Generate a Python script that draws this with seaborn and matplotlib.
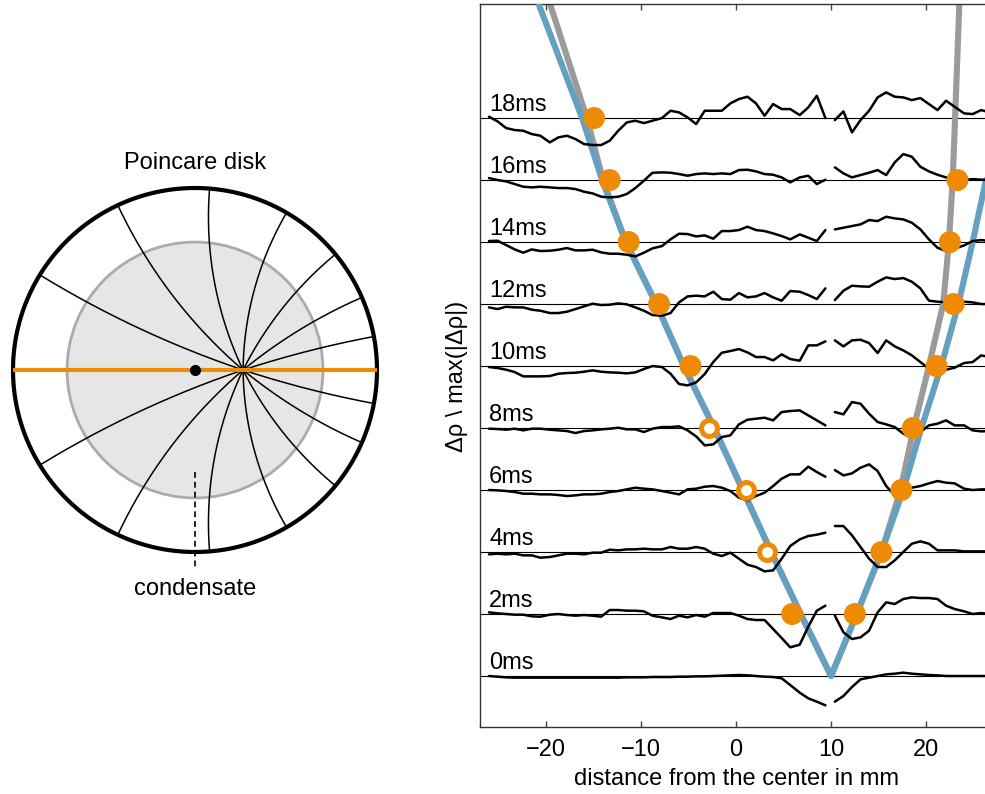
import numpy as np
import pandas as pd
import matplotlib
matplotlib.use("Agg")
import matplotlib.pyplot as plt
from matplotlib.patches import Circle
import seaborn as sns

sns.set_style("white")
plt.rcParams["font.family"] = ["Liberation Sans", "DejaVu Sans"]
plt.rcParams["axes.unicode_minus"] = True
plt.rcParams["text.color"] = "black"
plt.rcParams["axes.labelcolor"] = "black"
plt.rcParams["xtick.labelcolor"] = "black"

# ------------------------------------------------------------------ data
times_ms = [0, 2, 4, 6, 8, 10, 12, 14, 16, 18]

# sample positions (mm) of the density profiles, left and right of the gap
x_left = [-26.0, -25.1, -24.2, -23.3, -22.4, -21.5, -20.6, -19.6, -18.7, -17.8,
          -16.9, -16.0, -15.1, -14.2, -13.3, -12.4, -11.5, -10.6, -9.7, -8.8,
          -7.8, -6.9, -6.0, -5.1, -4.2, -3.3, -2.4, -1.5, -0.6, 0.3,
          1.2, 2.1, 3.0, 3.9, 4.8, 5.7, 6.7, 7.6, 8.5, 9.4]
x_right = [10.4, 11.3, 12.2, 13.1, 14.0, 14.9, 15.8, 16.7, 17.6, 18.5,
           19.4, 20.3, 21.2, 22.1, 23.0, 24.0, 24.9, 25.8, 26.7]

# normalised density change, left part
left_0ms = [0.00, -0.02, -0.04, -0.05, -0.05, -0.05, -0.05, -0.05, -0.05, -0.05,
            -0.05, -0.05, -0.05, -0.05, -0.05, -0.05, -0.04, -0.04, -0.04, -0.03,
            -0.03, -0.03, -0.02, -0.02, -0.01, -0.01, 0.00, 0.01, 0.02, 0.03,
            0.02, 0.00, -0.02, -0.03, -0.07, -0.27, -0.50, -0.67, -0.77, -0.88]
left_2ms = [0.05, 0.02, 0.00, -0.02, -0.02, -0.07, -0.08, -0.02, 0.00, -0.03,
            -0.05, -0.03, -0.05, -0.08, 0.12, 0.12, 0.10, 0.10, 0.08, -0.05,
            -0.10, -0.15, -0.05, -0.10, -0.03, -0.08, 0.03, 0.03, 0.03, -0.05,
            -0.15, -0.18, -0.18, -0.45, -0.72, -1.00, -0.92, -0.38, 0.10, 0.25]
left_4ms = [-0.07, -0.05, -0.07, -0.05, -0.10, -0.10, -0.17, -0.15, -0.10, -0.05,
            -0.05, -0.07, -0.02, -0.02, 0.07, 0.05, 0.08, 0.08, 0.10, 0.08,
            0.08, 0.15, 0.10, 0.10, 0.15, 0.10, -0.05, -0.12, -0.02, -0.20,
            -0.38, -0.45, -0.58, -0.55, -0.20, 0.18, 0.38, 0.48, 0.52, 0.58]
left_6ms = [0.00, -0.01, -0.03, -0.06, -0.11, -0.11, -0.13, -0.13, -0.15, -0.18,
            -0.16, -0.13, -0.13, -0.11, -0.06, -0.03, 0.02, 0.07, 0.04, 0.02,
            -0.03, -0.08, -0.13, 0.02, 0.04, 0.10, 0.12, 0.07, -0.03, -0.23,
            -0.31, -0.18, -0.08, 0.12, 0.34, 0.47, 0.47, 0.70, 0.54, 0.40]
left_8ms = [-0.02, -0.03, -0.05, -0.02, -0.07, -0.02, -0.02, -0.05, -0.07, -0.09,
            -0.15, -0.09, -0.07, -0.04, -0.02, 0.01, -0.04, -0.04, -0.12, -0.02,
            0.03, 0.03, 0.05, -0.07, -0.25, -0.52, -0.49, -0.27, -0.22, 0.11,
            0.25, 0.28, 0.31, 0.23, 0.48, 0.51, 0.53, 0.38, 0.23, 0.08]
left_10ms = [-0.03, -0.06, -0.11, -0.18, -0.31, -0.31, -0.31, -0.30, -0.23, -0.21,
             -0.20, -0.17, -0.13, -0.17, -0.19, -0.20, -0.22, -0.19, -0.09, 0.00,
             -0.03, -0.23, -0.54, -0.58, -0.49, -0.24, 0.12, 0.40, 0.45, 0.51,
             0.41, 0.27, 0.27, 0.17, 0.35, 0.21, 0.16, 0.62, 0.62, 0.74]
left_12ms = [-0.10, -0.15, -0.08, -0.10, -0.10, -0.17, -0.20, -0.27, -0.27, -0.23,
             -0.15, -0.07, 0.01, -0.03, -0.02, 0.02, -0.01, -0.10, -0.20, -0.33,
             -0.35, -0.27, 0.05, 0.23, 0.25, 0.23, 0.37, 0.15, 0.13, 0.33,
             0.20, 0.23, 0.33, 0.20, 0.10, 0.39, 0.37, 0.27, 0.15, 0.47]
left_14ms = [0.03, 0.04, -0.09, -0.22, -0.32, -0.22, -0.27, -0.26, -0.23, -0.18,
             -0.25, -0.25, -0.23, -0.31, -0.35, -0.35, -0.38, -0.43, -0.32, -0.19,
             -0.12, 0.08, 0.25, 0.24, 0.17, 0.20, 0.10, 0.33, 0.33, 0.36,
             0.46, 0.36, 0.33, 0.26, 0.18, 0.08, 0.23, 0.13, 0.03, 0.36]
left_16ms = [0.06, 0.00, -0.04, -0.12, -0.20, -0.22, -0.20, -0.22, -0.24, -0.24,
             -0.27, -0.35, -0.40, -0.50, -0.52, -0.50, -0.42, -0.24, -0.02, 0.22,
             0.23, 0.22, 0.18, 0.13, 0.18, 0.20, 0.18, 0.20, 0.18, 0.30,
             0.31, 0.26, 0.18, 0.16, 0.08, -0.07, 0.08, 0.13, -0.12, 0.01]
left_18ms = [0.04, -0.10, -0.30, -0.36, -0.38, -0.48, -0.53, -0.73, -0.58, -0.53,
             -0.63, -0.78, -0.81, -0.81, -0.68, -0.38, -0.13, -0.08, -0.15, -0.08,
             0.00, 0.22, 0.17, 0.02, -0.18, 0.22, 0.22, 0.22, 0.44, 0.57,
             0.64, 0.44, 0.07, 0.42, 0.27, 0.27, 0.09, 0.32, 0.67, 0.00]

# normalised density change, right part
right_0ms = [-0.77, -0.60, -0.33, -0.10, -0.05, 0.00, 0.05, 0.07, 0.10, 0.07,
             0.05, 0.03, 0.02, 0.00, 0.00, 0.00, 0.00, 0.00, 0.00]
right_2ms = [-0.05, -0.55, -0.75, -0.70, -0.50, 0.05, 0.35, 0.30, 0.45, 0.50,
             0.48, 0.48, 0.45, 0.25, 0.15, 0.08, 0.00, 0.03, 0.00]
right_4ms = [0.78, 0.78, 0.50, 0.15, -0.20, -0.45, -0.45, -0.25, 0.00, 0.25,
             0.32, 0.25, 0.05, 0.05, 0.05, 0.02, 0.02, 0.02, 0.02]
right_6ms = [0.60, 0.44, 0.50, 0.67, 0.77, 0.57, 0.12, -0.16, -0.10, 0.07,
             0.12, 0.20, 0.27, 0.22, 0.20, 0.04, 0.00, 0.02, 0.02]
right_8ms = [0.48, 0.41, 0.78, 0.73, 0.43, 0.18, 0.11, 0.03, -0.17, -0.29,
             -0.12, 0.08, 0.13, 0.23, 0.08, 0.08, -0.07, -0.10, -0.09]
right_10ms = [0.77, 0.59, 0.77, 0.79, 0.69, 0.39, 0.77, 0.59, 0.47, 0.32,
              0.12, -0.08, -0.11, -0.11, -0.05, 0.09, 0.12, 0.32, 0.27]
right_12ms = [0.12, 0.40, 0.55, 0.53, 0.52, 0.67, 0.80, 0.75, 0.78, 0.67,
              0.47, 0.10, 0.07, 0.05, 0.03, 0.07, 0.05, 0.00, 0.00]
right_14ms = [0.38, 0.43, 0.48, 0.53, 0.66, 0.63, 0.76, 0.71, 0.68, 0.58,
              0.38, 0.08, -0.17, -0.27, -0.20, -0.10, 0.03, 0.06, 0.03]
right_16ms = [0.38, 0.20, 0.08, 0.15, 0.22, 0.30, 0.15, 0.53, 0.78, 0.70,
              0.40, 0.26, 0.16, 0.08, 0.02, 0.00, 0.03, 0.01, 0.00]
right_18ms = [-0.06, 0.20, -0.43, -0.06, 0.22, 0.62, 0.77, 0.64, 0.62, 0.54,
              0.60, 0.42, 0.24, 0.52, 0.34, 0.14, 0.12, 0.24, 0.17]

# soliton trajectories (time in ms, position in mm)
blue_left_t = [0, 2, 4, 6, 8, 10, 12, 14, 16, 18, 21.7]
blue_left_x = [10.0, 6.8, 3.7, 0.7, -2.3, -5.5, -8.4, -11.6, -14.1, -16.2, -20.8]
blue_right_t = [0, 2, 4, 6, 8, 10, 12, 14, 16, 17]
blue_right_x = [10.0, 12.7, 15.3, 17.6, 19.5, 21.6, 23.4, 24.9, 26.3, 27.0]
grey_left_t = [0, 2, 4, 6, 8, 10, 12, 14, 16, 18, 21.7]
grey_left_x = [10.0, 6.8, 3.7, 0.7, -2.3, -5.5, -8.4, -11.6, -14.0, -15.7, -19.6]
grey_right_t = [0, 2, 4, 6, 8, 10, 12, 14, 16, 18, 21.7]
grey_right_x = [10.0, 12.7, 15.3, 17.3, 18.7, 20.3, 21.8, 22.4, 22.8, 23.05, 23.5]

# measured soliton positions
filled_t = [18, 16, 14, 12, 10, 2, 2, 4, 6, 8, 10, 12, 14, 16]
filled_x = [-14.95, -13.3, -11.3, -8.1, -4.8, 5.9, 12.5, 15.3, 17.4, 18.6, 21.1, 22.9, 22.5, 23.3]
hollow_t = [8, 6, 4]
hollow_x = [-2.9, 1.0, 3.3]

# Poincare disk sketch (unit disk)
focus_pos = 0.264
inner_radius = 0.703
geodesic_end_angles = [85.4, 59.8, 39.5, 23.5, 10.6, 0, -10.6, -23.5, -39.5, -59.8,
                       -85.4, -115.1, -148.5, 180, 148.5, 115.1]
condensate_mark = [-0.56, -1.10]

# ------------------------------------------------------------------ style
ORANGE = "#ee8a06"
BLUE = "#66a0c0"
GREY = "#9b9b9b"
GAIN = 1.075
FS = 17
W, H = 985, 794

fig = plt.figure(figsize=(W / 100, H / 100), dpi=100)

# ------------------------------------------------------------------ right panel
ax = fig.add_axes([480 / W, (H - 727) / H, 505 / W, 723 / H])
ax.set_xlim(-26.95, 26.2)
ax.set_ylim(-1.645, 21.68)

for t in times_ms:
    ax.axhline(t, color="black", lw=0.8, zorder=1)

curve_rows = []
for name, lt, lx, rt, rx in (("grey", grey_left_t, grey_left_x, grey_right_t, grey_right_x),
                             ("blue", blue_left_t, blue_left_x, blue_right_t, blue_right_x)):
    ts = lt[::-1] + rt[1:]
    xs = lx[::-1] + rx[1:]
    for i, (tt, xx) in enumerate(zip(ts, xs)):
        curve_rows.append((name, i, xx, tt))
curves = pd.DataFrame(curve_rows, columns=["curve", "order", "x", "t"])
for name, col, z in (("grey", GREY, 2), ("blue", BLUE, 3)):
    sub = curves[curves["curve"] == name]
    sns.lineplot(data=sub, x="x", y="t", estimator=None, sort=False, color=col,
                 lw=4.4, ax=ax, legend=False, zorder=z,
                 solid_joinstyle="round", solid_capstyle="round")

lefts = [left_0ms, left_2ms, left_4ms, left_6ms, left_8ms, left_10ms, left_12ms,
         left_14ms, left_16ms, left_18ms]
rights = [right_0ms, right_2ms, right_4ms, right_6ms, right_8ms, right_10ms,
          right_12ms, right_14ms, right_16ms, right_18ms]
rows = []
for t, lv, rv in zip(times_ms, lefts, rights):
    for side, xs, vs in (("L", x_left, lv), ("R", x_right, rv)):
        for x, v in zip(xs, vs):
            rows.append((f"{t}{side}", x, t + GAIN * v))
traces = pd.DataFrame(rows, columns=["seg", "x", "y"])
sns.lineplot(data=traces, x="x", y="y", units="seg", estimator=None, sort=False,
             color="black", lw=1.8, ax=ax, legend=False, zorder=4)

sns.scatterplot(x=filled_x, y=filled_t, s=250, color=ORANGE, edgecolor="none",
                linewidth=0, ax=ax, zorder=6, legend=False)
sns.scatterplot(x=hollow_x, y=hollow_t, s=132, color="white", edgecolor=ORANGE,
                linewidth=3.6, ax=ax, zorder=6, legend=False)

for t in times_ms:
    ax.text(-26.0, t + 0.22, f"{t}ms", fontsize=FS, ha="left", va="baseline", zorder=7)

ax.set_xticks([-20, -10, 0, 10, 20])
ax.set_yticks([])
ax.tick_params(axis="x", direction="in", top=True, bottom=True, labelbottom=True,
               length=4.5, width=1.0, color="#444444", pad=9, labelsize=FS)
ax.spines["right"].set_visible(False)
for s in ("left", "top", "bottom"):
    ax.spines[s].set_color("#333333")
    ax.spines[s].set_linewidth(1.0)
ax.set_xlabel("distance from the center in mm", fontsize=FS)
ax.xaxis.set_label_coords((736 - 480) / 505, -(768 - 727) / 723)
ax.set_ylabel("")
fig.text(457 / W, 1 - 376 / H, "Δρ \\ max(|Δρ|)", rotation=90, ha="center",
         va="center", fontsize=FS)

# ------------------------------------------------------------------ left panel
R_PX, CX, CY = 182.0, 195.0, 370.0
axd = fig.add_axes([0, 0, 400 / W, 1])
axd.set_xlim(-CX / R_PX, (400 - CX) / R_PX)
axd.set_ylim((CY - H) / R_PX, CY / R_PX)
axd.axis("off")

axd.add_patch(Circle((0, 0), inner_radius, facecolor="#e6e6e6", edgecolor="#ababab",
                     lw=2.0, zorder=1))
r = np.linspace(0, 1, 300)
for ang in geodesic_end_angles:
    q = np.exp(1j * np.deg2rad(ang))
    w = (q - focus_pos) / (1 - focus_pos * q)
    z = (r * w + focus_pos) / (1 + focus_pos * r * w)
    axd.plot(z.real, z.imag, color="black", lw=1.1, zorder=2)
th = np.linspace(0, 2 * np.pi, 400)
axd.plot(np.cos(th), np.sin(th), color="black", lw=3.0, zorder=3)
axd.plot([-1, 1], [0, 0], color=ORANGE, lw=3.0, zorder=4, solid_capstyle="butt")
axd.plot([0], [0], "o", color="black", ms=7, zorder=5)
axd.plot([0, 0], condensate_mark, color="black", lw=1.2, ls=(0, (3.5, 2.4)), zorder=5)
axd.text(0, (CY - 169) / R_PX, "Poincare disk", fontsize=FS, ha="center", va="baseline")
axd.text(0, (CY - 595) / R_PX, "condensate", fontsize=FS, ha="center", va="baseline")

fig.savefig("out.png", dpi=100)
